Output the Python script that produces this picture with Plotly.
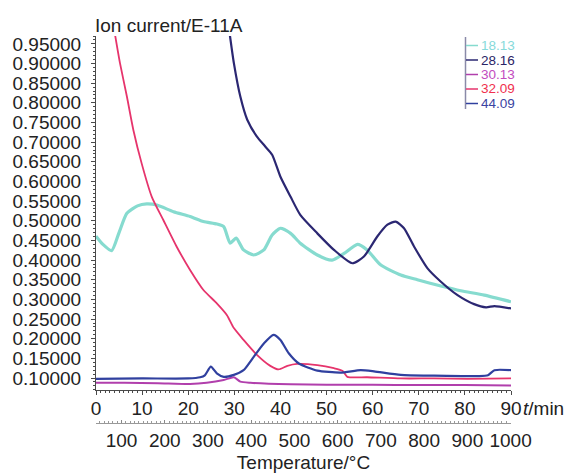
import plotly.graph_objects as go

# ---------------- data ----------------
series_names = ["18.13", "28.16", "30.13", "32.09", "44.09"]

t_1813 = [0, 1.5, 3.4, 5.0, 6.7, 9.0, 11.0, 13.2, 16.8, 20.4, 23.3, 26.2, 27.7, 29.1, 30.4, 32.0, 34.2,
          36.4, 38.2, 40.0, 42.2, 44.3, 48.0, 51.2, 53.8, 56.7, 58.8, 61.7, 66.1, 69.7, 74.8, 79.1, 84.2, 90.0]
v_1813 = [0.461, 0.440, 0.424, 0.470, 0.519, 0.538, 0.543, 0.540, 0.523, 0.511, 0.498, 0.492, 0.485, 0.443,
          0.456, 0.426, 0.413, 0.426, 0.464, 0.481, 0.468, 0.443, 0.413, 0.400, 0.417, 0.440, 0.426, 0.388,
          0.362, 0.350, 0.334, 0.322, 0.311, 0.294]

t_2816 = [29.0, 29.9, 31.3, 32.8, 34.9, 36.7, 38.2, 40.0, 42.2, 44.3, 48.0, 51.6, 55.6, 58.1, 61.0, 63.2,
          65.0, 66.8, 69.0, 71.9, 74.8, 78.4, 82.0, 84.6, 86.4, 90.0]
v_2816 = [0.975, 0.901, 0.816, 0.757, 0.714, 0.689, 0.668, 0.612, 0.561, 0.515, 0.468, 0.426, 0.392, 0.409,
          0.460, 0.490, 0.498, 0.481, 0.434, 0.379, 0.345, 0.311, 0.288, 0.280, 0.283, 0.277]

t_3013 = [0, 6.2, 13.4, 20.4, 24.0, 27.7, 29.9, 31.3, 33.5, 42.2, 50.0, 60.0, 70.0, 80.0, 90.0]
v_3013 = [0.088, 0.088, 0.087, 0.085, 0.088, 0.095, 0.102, 0.091, 0.088, 0.084, 0.083, 0.083, 0.082, 0.082, 0.081]

t_3209 = [4.1, 5.2, 6.7, 8.1, 9.9, 12.1, 14.6, 17.5, 20.4, 23.3, 26.2, 28.4, 29.9, 32.0, 34.9, 37.8, 39.6,
          41.5, 43.6, 48.0, 51.6, 53.5, 54.5, 58.8, 66.1, 73.3, 80.6, 90.0]
v_3209 = [0.975, 0.901, 0.816, 0.731, 0.646, 0.561, 0.502, 0.434, 0.375, 0.324, 0.290, 0.260, 0.227, 0.197,
          0.159, 0.131, 0.122, 0.131, 0.136, 0.133, 0.125, 0.118, 0.103, 0.102, 0.099, 0.099, 0.098, 0.099]

t_4409 = [0, 10.0, 20.0, 22.6, 23.6, 24.9, 26.2, 27.7, 29.9, 32.0, 34.2, 36.4, 38.5, 40.0, 41.8, 44.0, 48.0,
          53.0, 57.4, 60.3, 66.1, 73.3, 82.8, 85.0, 86.4, 90.0]
v_4409 = [0.098, 0.099, 0.099, 0.102, 0.107, 0.129, 0.112, 0.103, 0.108, 0.120, 0.154, 0.188, 0.210, 0.197,
          0.163, 0.137, 0.119, 0.114, 0.120, 0.117, 0.108, 0.106, 0.105, 0.107, 0.120, 0.120]

y_ticks = [0.10, 0.15, 0.20, 0.25, 0.30, 0.35, 0.40, 0.45, 0.50, 0.55, 0.60, 0.65, 0.70, 0.75, 0.80, 0.85, 0.90, 0.95]
t_ticks = [0, 10, 20, 30, 40, 50, 60, 70, 80, 90]
temp_ticks = [100, 200, 300, 400, 500, 600, 700, 800, 900, 1000]

# ---------------- styles ----------------
line_colors = ["#86dbcf", "#2b2772", "#b13fac", "#e6346c", "#30409f"]
line_widths = [3.2, 2.2, 2.0, 1.8, 2.2]
text_colors = ["#86dada", "#2a2466", "#c24cc0", "#f0304e", "#3a44a2"]
FONT = "Liberation Sans, Arial, Helvetica, sans-serif"
AX = "#4a4a4a"

fig = go.Figure()
data = [(t_1813, v_1813), (t_2816, v_2816), (t_3013, v_3013), (t_3209, v_3209), (t_4409, v_4409)]
order = [0, 2, 3, 4, 1]
for i in order:
    tx, vy = data[i]
    fig.add_trace(go.Scatter(x=tx, y=vy, mode="lines", name=series_names[i],
                             line=dict(color=line_colors[i], width=line_widths[i], shape="spline", smoothing=0.6),
                             showlegend=False, cliponaxis=True))

# dummy trace so the temperature axis is drawn
fig.add_trace(go.Scatter(x=[temp_ticks[0], temp_ticks[-1]], y=[None, None], xaxis="x2", mode="lines",
                         showlegend=False, hoverinfo="skip"))

# geometry (pixels)
W, H = 574, 474
L, R, T, B = 96, 63, 36, 51
plot_w = W - L - R
plot_h = H - T - B
y_axis_bottom_px = 390
ydom0 = (H - B - y_axis_bottom_px) / plot_h

def px2paper(x, y):
    return (x - L) / plot_w, (H - B - y) / plot_h

fig.update_layout(
    width=W, height=H,
    margin=dict(l=L, r=R, t=T, b=B, autoexpand=False),
    paper_bgcolor="white", plot_bgcolor="white",
    font=dict(family=FONT, size=19, color="#222"),
    xaxis=dict(range=[0, 90], tickvals=t_ticks, ticks="outside", ticklen=4, tickcolor=AX,
               showline=True, linecolor=AX, linewidth=1, showgrid=False, zeroline=False,
               anchor="y", tickfont=dict(size=19, color="#222"), automargin=False,
               ticklabelstandoff=-3,
               minor=dict(dtick=1, ticks="outside", ticklen=2, tickcolor=AX)),
    xaxis2=dict(range=[41, 1001], tickvals=temp_ticks, overlaying="x", anchor="free", position=0,
                side="bottom", ticks="inside", ticklen=3, tickcolor="#888", automargin=False,
                showline=True, linecolor="#999", linewidth=1, showgrid=False, zeroline=False,
                tickfont=dict(size=19, color="#222"),
                minor=dict(dtick=10, ticks="inside", ticklen=2, tickcolor="#999"),
                title=dict(text="Temperature/°C", font=dict(size=19, color="#222"), standoff=5)),
    yaxis=dict(range=[0.0696, 0.970], domain=[ydom0, 1], tickvals=y_ticks, tickformat=".5f",
               ticks="outside", ticklen=4, tickcolor=AX, showline=True, linecolor=AX, linewidth=1,
               showgrid=False, zeroline=False, tickfont=dict(size=19, color="#222"),
               ticklabelstandoff=6, automargin=False,
               minor=dict(dtick=0.01, ticks="outside", ticklen=2, tickcolor=AX)),
)

# axis labels
ax_, ay_ = px2paper(93, 25)
fig.add_annotation(x=ax_, y=ay_, xref="paper", yref="paper", text="Ion current/E-11A", showarrow=False,
                   xanchor="left", yanchor="middle", font=dict(size=19, color="#222"))
tx_, ty_ = px2paper(521, 408)
fig.add_annotation(x=tx_, y=ty_, xref="paper", yref="paper", text="<i>t</i>/min", showarrow=False,
                   xanchor="left", yanchor="middle", font=dict(size=19, color="#222"))

# legend (drawn manually)
leg_rows = [45.5, 60.0, 74.5, 89.0, 103.5]
x0, y0 = px2paper(465.5, 37)
x1, y1 = px2paper(465.5, 109)
fig.add_shape(type="line", xref="paper", yref="paper", x0=x0, y0=y0, x1=x1, y1=y1,
              line=dict(color="#8a8aa8", width=1.5))
for i, yr in enumerate(leg_rows):
    a0, b0 = px2paper(466, yr)
    a1, _ = px2paper(478, yr)
    fig.add_shape(type="line", xref="paper", yref="paper", x0=a0, y0=b0, x1=a1, y1=b0,
                  line=dict(color=line_colors[i], width=1.5))
    lx, ly = px2paper(480, yr)
    fig.add_annotation(x=lx, y=ly, xref="paper", yref="paper", text=series_names[i], showarrow=False,
                       xanchor="left", yanchor="middle", font=dict(size=13.5, color=text_colors[i]),
                       borderpad=0)

fig.write_html("out.html", config={"displayModeBar": False},
               post_script="document.body.style.margin='0px';document.body.style.padding='0px';")
